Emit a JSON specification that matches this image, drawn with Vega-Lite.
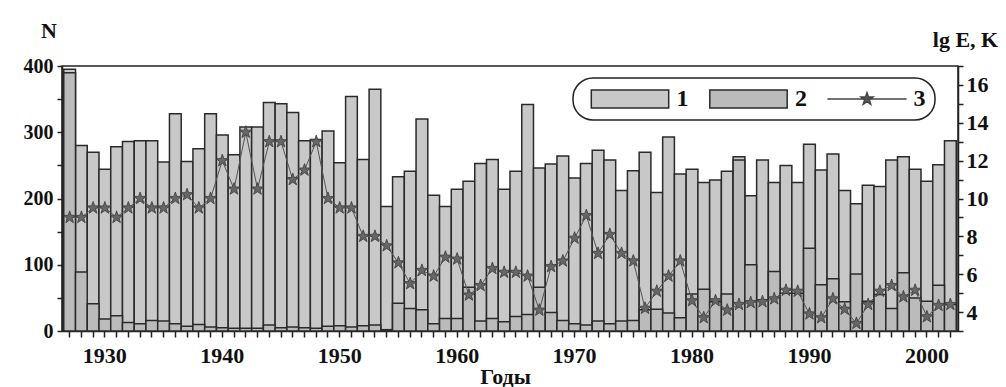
{
  "$schema": "https://vega.github.io/schema/vega-lite/v6.json",
  "width": 896,
  "height": 265,
  "autosize": {"type": "none"},
  "padding": {"left": 62, "top": 66, "right": 48, "bottom": 56},
  "background": "white",
  "data": {"values": [
    {"year": 1927, "n1": 395, "n2": 390, "k": 9.0},
    {"year": 1928, "n1": 280, "n2": 89, "k": 9.0},
    {"year": 1929, "n1": 270, "n2": 41, "k": 9.5},
    {"year": 1930, "n1": 244, "n2": 18, "k": 9.5},
    {"year": 1931, "n1": 278, "n2": 23, "k": 9.0},
    {"year": 1932, "n1": 286, "n2": 13, "k": 9.5},
    {"year": 1933, "n1": 287, "n2": 11, "k": 10.0},
    {"year": 1934, "n1": 287, "n2": 16, "k": 9.5},
    {"year": 1935, "n1": 255, "n2": 15, "k": 9.5},
    {"year": 1936, "n1": 328, "n2": 11, "k": 10.0},
    {"year": 1937, "n1": 256, "n2": 7, "k": 10.2},
    {"year": 1938, "n1": 275, "n2": 10, "k": 9.5},
    {"year": 1939, "n1": 328, "n2": 6, "k": 10.0},
    {"year": 1940, "n1": 296, "n2": 5, "k": 12.0},
    {"year": 1941, "n1": 266, "n2": 4, "k": 10.5},
    {"year": 1942, "n1": 308, "n2": 4, "k": 13.5},
    {"year": 1943, "n1": 308, "n2": 4, "k": 10.5},
    {"year": 1944, "n1": 345, "n2": 9, "k": 13.0},
    {"year": 1945, "n1": 343, "n2": 5, "k": 13.0},
    {"year": 1946, "n1": 330, "n2": 6, "k": 11.0},
    {"year": 1947, "n1": 287, "n2": 5, "k": 11.5},
    {"year": 1948, "n1": 289, "n2": 4, "k": 13.0},
    {"year": 1949, "n1": 302, "n2": 7, "k": 10.0},
    {"year": 1950, "n1": 254, "n2": 8, "k": 9.5},
    {"year": 1951, "n1": 354, "n2": 6, "k": 9.5},
    {"year": 1952, "n1": 259, "n2": 8, "k": 8.0},
    {"year": 1953, "n1": 365, "n2": 9, "k": 8.0},
    {"year": 1954, "n1": 188, "n2": 2, "k": 7.5},
    {"year": 1955, "n1": 233, "n2": 42, "k": 6.6},
    {"year": 1956, "n1": 241, "n2": 34, "k": 5.5},
    {"year": 1957, "n1": 320, "n2": 32, "k": 6.2},
    {"year": 1958, "n1": 205, "n2": 11, "k": 5.9},
    {"year": 1959, "n1": 188, "n2": 19, "k": 6.9},
    {"year": 1960, "n1": 214, "n2": 19, "k": 6.8},
    {"year": 1961, "n1": 226, "n2": 66, "k": 4.9},
    {"year": 1962, "n1": 253, "n2": 15, "k": 5.4},
    {"year": 1963, "n1": 259, "n2": 19, "k": 6.3},
    {"year": 1964, "n1": 214, "n2": 14, "k": 6.1},
    {"year": 1965, "n1": 241, "n2": 22, "k": 6.1},
    {"year": 1966, "n1": 342, "n2": 25, "k": 5.9},
    {"year": 1967, "n1": 246, "n2": 66, "k": 4.1},
    {"year": 1968, "n1": 252, "n2": 28, "k": 6.4},
    {"year": 1969, "n1": 264, "n2": 16, "k": 6.7},
    {"year": 1970, "n1": 231, "n2": 11, "k": 7.9},
    {"year": 1971, "n1": 253, "n2": 9, "k": 9.1},
    {"year": 1972, "n1": 273, "n2": 15, "k": 7.1},
    {"year": 1973, "n1": 258, "n2": 11, "k": 8.1},
    {"year": 1974, "n1": 212, "n2": 15, "k": 7.1},
    {"year": 1975, "n1": 242, "n2": 16, "k": 6.7},
    {"year": 1976, "n1": 270, "n2": 32, "k": 4.2},
    {"year": 1977, "n1": 209, "n2": 33, "k": 5.1},
    {"year": 1978, "n1": 293, "n2": 27, "k": 5.9},
    {"year": 1979, "n1": 237, "n2": 20, "k": 6.7},
    {"year": 1980, "n1": 244, "n2": 56, "k": 4.6},
    {"year": 1981, "n1": 224, "n2": 63, "k": 3.7},
    {"year": 1982, "n1": 228, "n2": 44, "k": 4.6},
    {"year": 1983, "n1": 241, "n2": 56, "k": 4.1},
    {"year": 1984, "n1": 263, "n2": 258, "k": 4.4},
    {"year": 1985, "n1": 204, "n2": 100, "k": 4.5},
    {"year": 1986, "n1": 258, "n2": 47, "k": 4.55},
    {"year": 1987, "n1": 224, "n2": 90, "k": 4.7},
    {"year": 1988, "n1": 250, "n2": 57, "k": 5.15},
    {"year": 1989, "n1": 224, "n2": 57, "k": 5.1},
    {"year": 1990, "n1": 282, "n2": 125, "k": 3.9},
    {"year": 1991, "n1": 243, "n2": 70, "k": 3.7},
    {"year": 1992, "n1": 267, "n2": 79, "k": 4.7},
    {"year": 1993, "n1": 212, "n2": 44, "k": 4.15},
    {"year": 1994, "n1": 192, "n2": 86, "k": 3.4},
    {"year": 1995, "n1": 220, "n2": 45, "k": 4.4},
    {"year": 1996, "n1": 218, "n2": 55, "k": 5.1},
    {"year": 1997, "n1": 258, "n2": 34, "k": 5.4},
    {"year": 1998, "n1": 263, "n2": 88, "k": 4.8},
    {"year": 1999, "n1": 244, "n2": 50, "k": 5.15},
    {"year": 2000, "n1": 226, "n2": 45, "k": 3.75},
    {"year": 2001, "n1": 251, "n2": 69, "k": 4.35},
    {"year": 2002, "n1": 287, "n2": 40, "k": 4.4}
  ]},
  "encoding": {
    "x": {
      "field": "year", "type": "ordinal",
      "scale": {"paddingInner": 0, "paddingOuter": 0.15},
      "axis": {
        "title": "Годы", "titleX": 443, "titleY": 52, "titleBaseline": "alphabetic", "titleAlign": "center",
        "labelAngle": 0, "labelOverlap": false, "labelBaseline": "alphabetic", "labelPadding": 25, "tickSize": 6,
        "labelFontSize": 22,
        "labelExpr": "datum.value % 10 === 0 ? datum.value : ''"
      }
    }
  },
  "layer": [
    {
      "layer": [
        {
          "mark": {"type": "bar", "strokeWidth": 1.5},
          "encoding": {
            "y": {
              "field": "n1", "type": "quantitative",
              "scale": {"domain": [0, 400], "nice": false},
              "axis": {
                "title": "N", "titleAngle": 0, "titleX": -13.5, "titleY": -29, "titleAlign": "center", "titleBaseline": "alphabetic",
                "values": [0, 50, 100, 150, 200, 250, 300, 350, 400],
                "labelExpr": "datum.value % 100 === 0 ? datum.label : ''",
                "tickSize": 5, "labelPadding": 4, "labelFontSize": 20
              }
            },
            "color": {
              "datum": "1",
              "scale": {"domain": ["1", "2", "3"], "range": ["#c8c8c8", "#bbbbbb", "#666666"]},
              "legend": {
                "orient": "none", "legendX": 511, "legendY": 12, "direction": "horizontal", "title": null,
                "padding": 9, "strokeColor": "#222222", "cornerRadius": 20, "fillColor": "white",
                "symbolSize": 324, "symbolOffset": 36, "labelOffset": 34.5, "columnPadding": 11.5, "symbolStrokeWidth": 1.5,
                "labelFont": "Liberation Serif", "labelFontWeight": "bold", "labelFontSize": 24, "labelColor": "#111111"
              }
            },
            "stroke": {
              "datum": "1",
              "scale": {"domain": ["1", "2", "3"], "range": ["#2a2a2a", "#2a2a2a", "#444444"]},
              "legend": {
                "orient": "none", "legendX": 511, "legendY": 12, "direction": "horizontal", "title": null,
                "padding": 9, "strokeColor": "#222222", "cornerRadius": 20, "fillColor": "white",
                "symbolSize": 324, "symbolOffset": 36, "labelOffset": 34.5, "columnPadding": 11.5, "symbolStrokeWidth": 1.5,
                "labelFont": "Liberation Serif", "labelFontWeight": "bold", "labelFontSize": 24, "labelColor": "#111111"
              }
            }
          }
        },
        {
          "mark": {"type": "bar", "strokeWidth": 1.5},
          "encoding": {
            "y": {
              "field": "n2", "type": "quantitative",
              "axis": {
                "title": "N", "titleAngle": 0, "titleX": -13.5, "titleY": -29, "titleAlign": "center", "titleBaseline": "alphabetic",
                "values": [0, 50, 100, 150, 200, 250, 300, 350, 400],
                "labelExpr": "datum.value % 100 === 0 ? datum.label : ''",
                "tickSize": 5, "labelPadding": 4, "labelFontSize": 20
              }
            },
            "color": {"datum": "2"},
            "stroke": {"datum": "2"}
          }
        }
      ]
    },
    {
      "layer": [
        {
          "mark": {"type": "line", "strokeWidth": 1, "stroke": "#555555"},
          "encoding": {
            "y": {
              "field": "k", "type": "quantitative",
              "scale": {"domain": [3, 17], "nice": false, "zero": false},
              "axis": {
                "orient": "right",
                "title": "lg E, K", "titleAngle": 0, "titleX": 7, "titleY": -20, "titleAlign": "center", "titleBaseline": "alphabetic",
                "values": [3, 4, 5, 6, 7, 8, 9, 10, 11, 12, 13, 14, 15, 16, 17],
                "labelExpr": "(datum.value % 2 === 0 && datum.value >= 4 && datum.value <= 16) ? datum.label : ''",
                "tickSize": 5, "labelPadding": 3, "labelFontSize": 22
              }
            }
          }
        },
        {
          "mark": {"type": "point", "shape": "M0,-1L0.235,-0.324L0.951,-0.309L0.38,0.124L0.588,0.809L0,0.4L-0.588,0.809L-0.38,0.124L-0.951,-0.309L-0.235,-0.324Z", "filled": true, "fill": "#666666", "size": 170, "stroke": "#3a3a3a", "strokeWidth": 0.8, "opacity": 1},
          "encoding": {
            "y": {
              "field": "k", "type": "quantitative",
              "axis": {
                "orient": "right",
                "title": "lg E, K", "titleAngle": 0, "titleX": 7, "titleY": -20, "titleAlign": "center", "titleBaseline": "alphabetic",
                "values": [3, 4, 5, 6, 7, 8, 9, 10, 11, 12, 13, 14, 15, 16, 17],
                "labelExpr": "(datum.value % 2 === 0 && datum.value >= 4 && datum.value <= 16) ? datum.label : ''",
                "tickSize": 5, "labelPadding": 3, "labelFontSize": 22
              }
            }
          }
        },
        {
          "mark": {"type": "point", "filled": true, "size": 0},
          "encoding": {
            "y": {
              "field": "k", "type": "quantitative",
              "axis": {
                "orient": "right",
                "title": "lg E, K", "titleAngle": 0, "titleX": 7, "titleY": -20, "titleAlign": "center", "titleBaseline": "alphabetic",
                "values": [3, 4, 5, 6, 7, 8, 9, 10, 11, 12, 13, 14, 15, 16, 17],
                "labelExpr": "(datum.value % 2 === 0 && datum.value >= 4 && datum.value <= 16) ? datum.label : ''",
                "tickSize": 5, "labelPadding": 3, "labelFontSize": 22
              }
            },
            "color": {"datum": "3"},
            "stroke": {"datum": "3"},
            "shape": {
              "datum": "3",
              "scale": {"domain": ["1", "2", "3"], "range": [
                "M-4.3,-1H4.3V1H-4.3Z",
                "M-4.3,-1H4.3V1H-4.3Z",
                "M-4.4,0H4.4M0,-0.7L0.165,-0.227L0.666,-0.216L0.266,0.087L0.411,0.566L0,0.28L-0.411,0.566L-0.266,0.087L-0.666,-0.216L-0.165,-0.227Z"
              ]},
              "legend": {
                "orient": "none", "legendX": 511, "legendY": 12, "direction": "horizontal", "title": null,
                "padding": 9, "strokeColor": "#222222", "cornerRadius": 20, "fillColor": "white",
                "symbolSize": 324, "symbolOffset": 36, "labelOffset": 34.5, "columnPadding": 11.5, "symbolStrokeWidth": 1.5,
                "labelFont": "Liberation Serif", "labelFontWeight": "bold", "labelFontSize": 24, "labelColor": "#111111"
              }
            }
          }
        }
      ]
    }
  ],
  "resolve": {"scale": {"y": "independent"}},
  "config": {
    "view": {"stroke": "#222222", "strokeWidth": 1.5},
    "axis": {
      "grid": false,
      "labelFont": "Liberation Serif", "labelFontWeight": "bold", "labelColor": "#111111",
      "titleFont": "Liberation Serif", "titleFontWeight": "bold", "titleFontSize": 22, "titleColor": "#111111",
      "domainColor": "#222222", "domainWidth": 1.5, "tickColor": "#222222", "tickWidth": 1.5
    },
    "legend": {"strokeWidth": 1.5}
  }
}
